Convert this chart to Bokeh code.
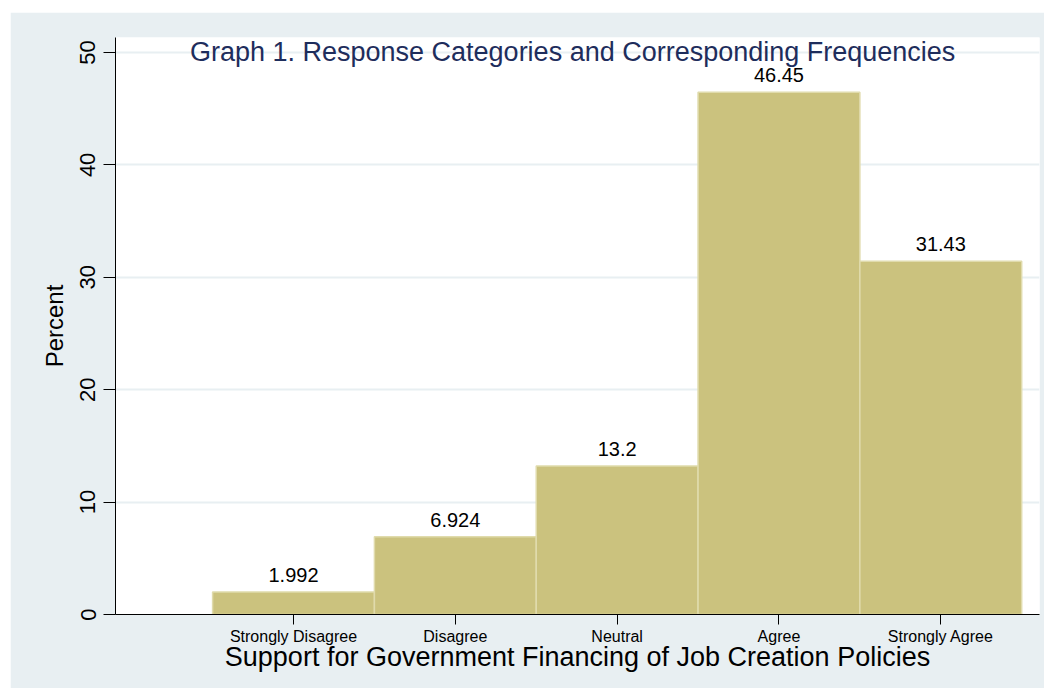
from bokeh.plotting import figure
from bokeh.models import Range1d, FixedTicker, Label, ColumnDataSource
from bokeh.core.properties import value
from bokeh.embed import file_html
from bokeh.resources import INLINE

categories = ["Strongly Disagree", "Disagree", "Neutral", "Agree", "Strongly Agree"]
codes = [1, 2, 3, 4, 5]
percent = [1.992, 6.924, 13.2, 46.45, 31.43]
bar_labels = ["1.992", "6.924", "13.2", "46.45", "31.43"]
y_ticks = [0, 10, 20, 30, 40, 50]

title_text = "Graph 1. Response Categories and Corresponding Frequencies"
x_title = "Support for Government Financing of Job Creation Policies"
y_title = "Percent"

FONT = "Liberation Sans"
BG = "#e8eff2"
BAR = "#cbc27e"
BAR_LINE = "#e0dbac"

x_lo, x_hi = -0.10, 5.61
y_lo, y_hi = 0, 51.33

p = figure(width=1034, height=676, output_backend="svg", toolbar_location=None,
           x_range=Range1d(x_lo, x_hi), y_range=Range1d(y_lo, y_hi),
           min_border_left=105, min_border_right=5, min_border_top=25, min_border_bottom=74)
p.margin = (12, 0, 0, 10)
p.border_fill_color = BG
p.background_fill_color = "white"
p.outline_line_color = None

src = ColumnDataSource(dict(
    left=[c - 0.5 for c in codes],
    right=[c + 0.5 for c in codes],
    x=codes,
    top=percent,
    lab=bar_labels,
))
p.quad(left="left", right="right", bottom=0, top="top", source=src,
       fill_color=BAR, line_color=BAR_LINE, line_width=1.5)
p.text(x="x", y="top", text="lab", source=src, text_align="center",
       text_baseline="bottom", y_offset=-10, text_font=value(FONT),
       text_font_size="20px", text_color="black")

# grid
p.xgrid.visible = False
p.ygrid.ticker = FixedTicker(ticks=y_ticks)
p.ygrid.grid_line_color = BG
p.ygrid.grid_line_width = 2

# x axis
xa = p.xaxis[0]
xa.ticker = FixedTicker(ticks=codes)
xa.major_label_overrides = {c: lab for c, lab in zip(codes, categories)}
xa.major_tick_out = 10
xa.major_tick_in = 0
xa.minor_tick_line_color = None
xa.axis_line_color = "black"
xa.major_tick_line_color = "black"
xa.major_label_text_font = FONT
xa.major_label_text_font_size = "16px"
xa.major_label_text_color = "black"
xa.major_label_standoff = 3
xa.axis_label = x_title
xa.axis_label_text_font = FONT
xa.axis_label_text_font_size = "27px"
xa.axis_label_text_font_style = "normal"
xa.axis_label_text_color = "black"
xa.axis_label_standoff = -6

# y axis
ya = p.yaxis[0]
ya.ticker = FixedTicker(ticks=y_ticks)
ya.major_tick_out = 12
ya.major_tick_in = 0
ya.minor_tick_line_color = None
ya.axis_line_color = "black"
ya.major_tick_line_color = "black"
ya.major_label_orientation = "vertical"
ya.major_label_text_font = FONT
ya.major_label_text_font_size = "22px"
ya.major_label_text_color = "black"
ya.major_label_standoff = 8
ya.axis_label = y_title
ya.axis_label_text_font = FONT
ya.axis_label_text_font_size = "24px"
ya.axis_label_text_font_style = "normal"
ya.axis_label_text_color = "black"
ya.axis_label_standoff = 10

title = Label(x=(x_lo + x_hi) / 2 - 0.03, y=y_ticks[-1], text=title_text,
              text_align="center", text_baseline="middle",
              text_font=FONT, text_font_size="27px", text_color="#1e2d5c")
p.add_layout(title)

open("out.html", "w").write(file_html(p, INLINE))
